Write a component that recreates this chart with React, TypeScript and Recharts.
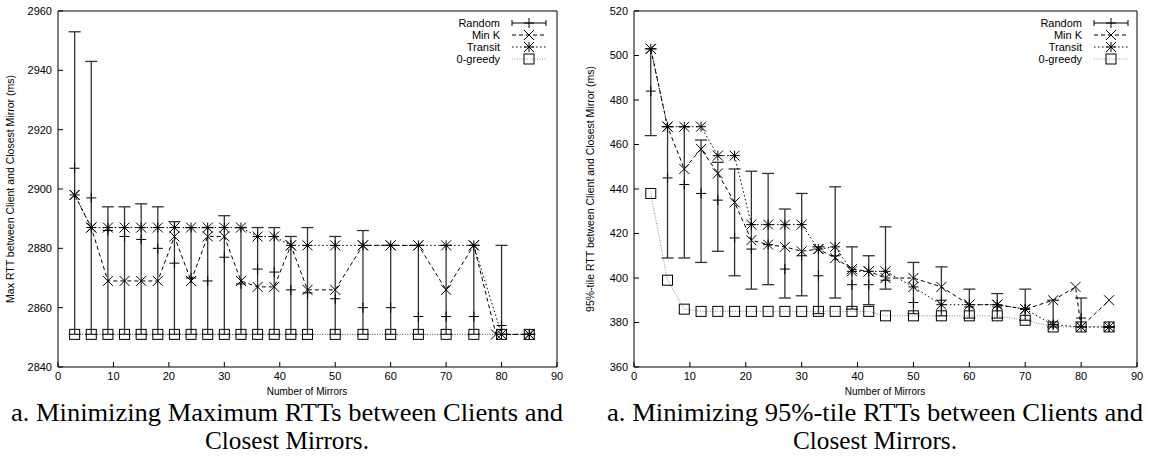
import React from 'react';
import { LineChart, Line, XAxis, YAxis, ErrorBar } from 'recharts';

// x positions (number of mirrors)
const MIRRORS = [3, 6, 9, 12, 15, 18, 21, 24, 27, 30, 33, 36, 39, 42, 45, 50, 55, 60, 65, 70, 75, 80, 85];
const MIRRORS_MINK_MAX = [3, 6, 9, 12, 15, 18, 21, 24, 27, 30, 33, 36, 39, 42, 45, 50, 55, 60, 65, 70, 75, 79, 85];
const MIRRORS_MINK_95 = [3, 6, 9, 12, 15, 18, 21, 24, 27, 30, 33, 36, 39, 42, 45, 50, 55, 60, 65, 70, 75, 79, 80, 85];

const X_TICKS = [0, 10, 20, 30, 40, 50, 60, 70, 80, 90];
const MAX_TICKS = [2840, 2860, 2880, 2900, 2920, 2940, 2960];
const P95_TICKS = [360, 380, 400, 420, 440, 460, 480, 500, 520];

// a. maximum RTT (ms)
const maxRandom = [2907, 2897, 2886, 2884, 2883, 2880, 2875, 2870, 2869, 2877, 2868, 2873, 2872, 2866, 2865, 2863, 2860, 2860, 2857, 2857, 2857, 2854, 2851];
const maxRandomLow = [2851, 2851, 2851, 2851, 2851, 2851, 2851, 2851, 2851, 2851, 2851, 2851, 2851, 2851, 2851, 2851, 2851, 2851, 2851, 2851, 2851, 2851, 2851];
const maxRandomHigh = [2953, 2943, 2894, 2894, 2895, 2894, 2889, 2887, 2887, 2891, 2887, 2887, 2887, 2884, 2887, 2884, 2886, 2881, 2881, 2881, 2881, 2881, 2851];
const maxMinK = [2898, 2887, 2869, 2869, 2869, 2869, 2884, 2869, 2884, 2884, 2869, 2867, 2867, 2881, 2866, 2866, 2881, 2881, 2881, 2866, 2881, 2851, 2851];
const maxTransit = [2898, 2887, 2887, 2887, 2887, 2887, 2887, 2887, 2887, 2887, 2887, 2884, 2884, 2881, 2881, 2881, 2881, 2881, 2881, 2881, 2881, 2851, 2851];
const maxGreedy = [2851, 2851, 2851, 2851, 2851, 2851, 2851, 2851, 2851, 2851, 2851, 2851, 2851, 2851, 2851, 2851, 2851, 2851, 2851, 2851, 2851, 2851, 2851];

// b. 95%-tile RTT (ms)
const p95Random = [484, 445, 442, 438, 435, 418, 413, 415, 404, 410, 401, 410, 397, 397, 399, 389, 390, 387, 387, 386, 379, 382, 378];
const p95RandomLow = [464, 409, 409, 407, 412, 401, 395, 397, 391, 392, 384, 391, 386, 388, 395, 384, 383, 382, 382, 381, 378, 378, 378];
const p95RandomHigh = [503, 468, 468, 462, 452, 449, 448, 447, 431, 438, 414, 441, 414, 410, 423, 407, 405, 395, 393, 395, 390, 391, 378];
const p95MinK = [503, 468, 449, 458, 447, 434, 417, 415, 414, 412, 413, 409, 404, 403, 400, 400, 396, 388, 388, 386, 390, 396, 378, 390];
const p95Transit = [503, 468, 468, 468, 455, 455, 424, 424, 424, 424, 413, 414, 403, 403, 403, 396, 388, 388, 388, 386, 379, 378, 378];
const p95Greedy = [438, 399, 386, 385, 385, 385, 385, 385, 385, 385, 385, 385, 385, 385, 383, 383, 383, 383, 383, 381, 378, 378, 378];

const pts = (xs: number[], ys: number[]) => xs.map((x, i) => ({ x, y: ys[i] }));
const errPts = (xs: number[], mid: number[], lo: number[], hi: number[]) =>
  xs.map((x, i) => ({ x, y: mid[i], err: [mid[i] - lo[i], hi[i] - mid[i]] }));

const SANS = 'Liberation Sans, Arimo, Arial, Helvetica, sans-serif';
const SERIF = 'Liberation Serif, Tinos, Times New Roman, Times, serif';

const plusPath = (cx: number, cy: number) => `M${cx - 5},${cy}H${cx + 5}M${cx},${cy - 5}V${cy + 5}`;
const crossPath = (cx: number, cy: number) => `M${cx - 5},${cy - 5}L${cx + 5},${cy + 5}M${cx - 5},${cy + 5}L${cx + 5},${cy - 5}`;

const PlusDot = (p: any) =>
  p.cx == null ? <g key={p.index} /> : <path key={p.index} d={plusPath(p.cx, p.cy)} stroke="#000" strokeWidth={1} fill="none" />;
const CrossDot = (p: any) =>
  p.cx == null ? <g key={p.index} /> : <path key={p.index} d={crossPath(p.cx, p.cy)} stroke="#000" strokeWidth={1} fill="none" />;
const StarDot = (p: any) =>
  p.cx == null ? <g key={p.index} /> : (
    <path key={p.index} d={crossPath(p.cx, p.cy) + plusPath(p.cx, p.cy)} stroke="#000" strokeWidth={1} fill="none" />
  );
const BoxDot = (p: any) =>
  p.cx == null ? <g key={p.index} /> : (
    <rect key={p.index} x={p.cx - 5} y={p.cy - 5} width={10} height={10} stroke="#000" strokeWidth={1} fill="none" />
  );

interface PanelProps {
  random: any[];
  minK: any[];
  transit: any[];
  greedy: any[];
  domain: [number, number];
  yTicks: number[];
  width: number;
  yWidth: number;
  right: number;
  greedyColor: string;
}

const Panel: React.FC<PanelProps> = ({ random, minK, transit, greedy, domain, yTicks, width, yWidth, right, greedyColor }) => {
  const tickStyle = { fontSize: 11, fill: '#000', style: { fontFamily: SANS } };
  return (
    <LineChart width={width} height={400} margin={{ top: 10, right, bottom: 0, left: 0 }} style={{ fontFamily: SANS }}>
      <XAxis
        xAxisId="b"
        type="number"
        dataKey="x"
        domain={[0, 90]}
        ticks={X_TICKS}
        allowDataOverflow
        height={33}
        tickSize={-5}
        tickMargin={10}
        tick={tickStyle}
        axisLine={{ stroke: '#000' }}
        tickLine={{ stroke: '#000' }}
      />
      <XAxis
        xAxisId="t"
        orientation="top"
        type="number"
        dataKey="x"
        domain={[0, 90]}
        ticks={X_TICKS}
        height={1}
        tickSize={-5}
        tick={false}
        axisLine={{ stroke: '#000' }}
        tickLine={{ stroke: '#000' }}
      />
      <YAxis
        yAxisId="l"
        type="number"
        domain={domain}
        ticks={yTicks}
        allowDataOverflow
        width={yWidth}
        tickSize={-5}
        tickMargin={11}
        tick={tickStyle}
        axisLine={{ stroke: '#000' }}
        tickLine={{ stroke: '#000' }}
      />
      <YAxis
        yAxisId="r"
        orientation="right"
        type="number"
        domain={domain}
        ticks={yTicks}
        width={1}
        tickSize={-5}
        tick={false}
        axisLine={{ stroke: '#000' }}
        tickLine={{ stroke: '#000' }}
      />
      <Line
        xAxisId="b"
        yAxisId="l"
        data={greedy}
        dataKey="y"
        stroke={greedyColor}
        strokeWidth={1}
        strokeDasharray="1 1.5"
        dot={BoxDot}
        isAnimationActive={false}
      />
      <Line
        xAxisId="b"
        yAxisId="l"
        data={random}
        dataKey="y"
        stroke="none"
        dot={PlusDot}
        isAnimationActive={false}
      >
        <ErrorBar dataKey="err" width={6} stroke="#333" strokeWidth={1.3} direction="y" isAnimationActive={false} />
      </Line>
      <Line
        xAxisId="b"
        yAxisId="l"
        data={minK}
        dataKey="y"
        stroke="#000"
        strokeWidth={1}
        strokeDasharray="4 3"
        dot={CrossDot}
        isAnimationActive={false}
      />
      <Line
        xAxisId="b"
        yAxisId="l"
        data={transit}
        dataKey="y"
        stroke="#000"
        strokeWidth={1}
        strokeDasharray="1.5 2.5"
        dot={StarDot}
        isAnimationActive={false}
      />
    </LineChart>
  );
};

const LegendBlock: React.FC<{ textX: number; x0: number; x1: number }> = ({ textX, x0, x1 }) => {
  const rows = [23, 35, 47, 59];
  const mid = (x0 + x1) / 2;
  return (
    <g style={{ fontFamily: SANS, fontSize: 11 }} fill="#000">
      <text x={textX} y={rows[0] + 4} textAnchor="end">Random</text>
      <path d={`M${x0},${rows[0]}H${x1}M${x0},${rows[0] - 3}V${rows[0] + 3}M${x1},${rows[0] - 3}V${rows[0] + 3}`} stroke="#000" />
      <path d={plusPath(mid, rows[0])} stroke="#000" />
      <text x={textX} y={rows[1] + 4} textAnchor="end">Min K</text>
      <line x1={x0} x2={x1} y1={rows[1]} y2={rows[1]} stroke="#000" strokeDasharray="4 3" />
      <path d={crossPath(mid, rows[1])} stroke="#000" />
      <text x={textX} y={rows[2] + 4} textAnchor="end">Transit</text>
      <line x1={x0} x2={x1} y1={rows[2]} y2={rows[2]} stroke="#000" strokeDasharray="1.5 2.5" />
      <path d={crossPath(mid, rows[2]) + plusPath(mid, rows[2])} stroke="#000" />
      <text x={textX} y={rows[3] + 4} textAnchor="end">0-greedy</text>
      <line x1={x0} x2={x1} y1={rows[3]} y2={rows[3]} stroke="#999" strokeDasharray="1 1.5" />
      <rect x={mid - 5} y={rows[3] - 5} width={10} height={10} stroke="#000" fill="none" />
    </g>
  );
};

export default function App() {
  return (
    <div style={{ position: 'absolute', left: 0, top: 0, width: 1149, height: 459, background: '#fff', fontFamily: SANS }}>
      <div style={{ position: 'absolute', left: 0, top: 0 }}>
        <Panel
          random={errPts(MIRRORS, maxRandom, maxRandomLow, maxRandomHigh)}
          minK={pts(MIRRORS_MINK_MAX, maxMinK)}
          transit={pts(MIRRORS, maxTransit)}
          greedy={pts(MIRRORS, maxGreedy)}
          domain={[2840, 2960]}
          yTicks={MAX_TICKS}
          width={575}
          yWidth={58}
          right={17}
          greedyColor="#444"
        />
      </div>
      <div style={{ position: 'absolute', left: 580, top: 0 }}>
        <Panel
          random={errPts(MIRRORS, p95Random, p95RandomLow, p95RandomHigh)}
          minK={pts(MIRRORS_MINK_95, p95MinK)}
          transit={pts(MIRRORS, p95Transit)}
          greedy={pts(MIRRORS, p95Greedy)}
          domain={[360, 520]}
          yTicks={P95_TICKS}
          width={569}
          yWidth={54}
          right={11}
          greedyColor="#888"
        />
      </div>
      <svg width={1149} height={459} style={{ position: 'absolute', left: 0, top: 0, pointerEvents: 'none' }}>
        <LegendBlock textX={500} x0={512} x1={546} />
        <LegendBlock textX={1082} x0={1094} x1={1128} />

        <g style={{ fontFamily: SANS, fontSize: 10.5 }} fill="#000" textAnchor="middle">
          <text transform="translate(14,189) rotate(-90)">Max RTT between Client and Closest Mirror (ms)</text>
          <text transform="translate(594,189) rotate(-90)">95%-tile RTT between Client and Closest Mirror (ms)</text>
          <text x={307} y={395} style={{ fontSize: 10 }}>Number of Mirrors</text>
          <text x={885} y={395} style={{ fontSize: 10 }}>Number of Mirrors</text>
        </g>

        <g style={{ fontFamily: SERIF, fontSize: 25 }} fill="#000" textAnchor="middle">
          <text x={287} y={421} textLength={552} lengthAdjust="spacingAndGlyphs">a. Minimizing Maximum RTTs between Clients and</text>
          <text x={287} y={449} textLength={164} lengthAdjust="spacingAndGlyphs">Closest Mirrors.</text>
          <text x={875} y={421} textLength={536} lengthAdjust="spacingAndGlyphs">a. Minimizing 95%-tile RTTs between Clients and</text>
          <text x={875} y={449} textLength={164} lengthAdjust="spacingAndGlyphs">Closest Mirrors.</text>
        </g>
      </svg>
    </div>
  );
}
